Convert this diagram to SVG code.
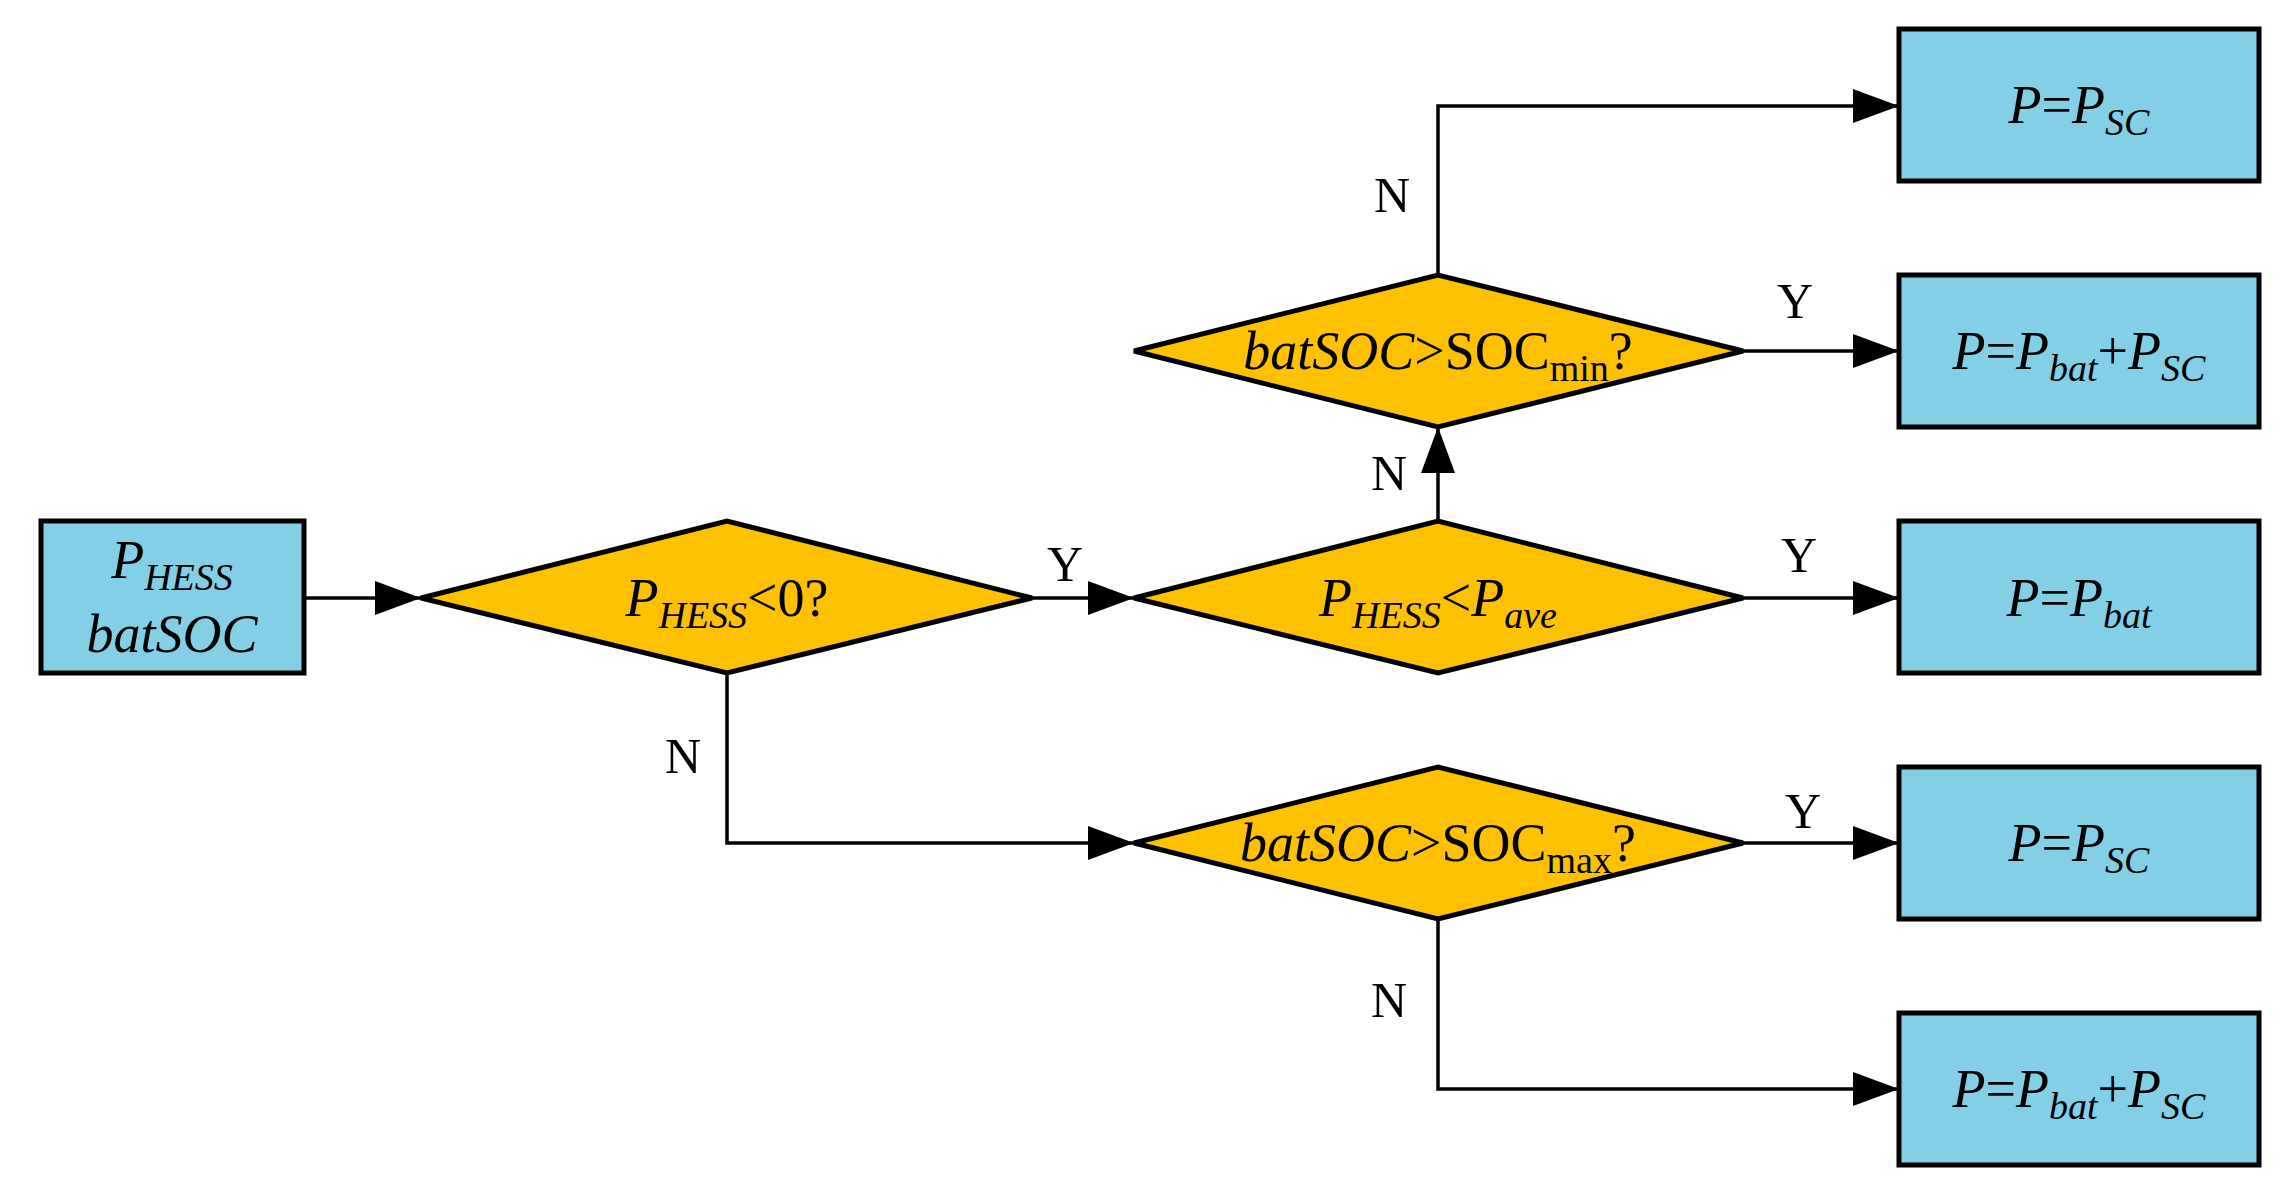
<svg xmlns="http://www.w3.org/2000/svg" width="2291" height="1196" viewBox="0 0 2291 1196">
<style>
.box{fill:#83CFE6;stroke:#000;stroke-width:5}
.dia{fill:#FDC100;stroke:#000;stroke-width:5}
.ln{fill:none;stroke:#000;stroke-width:3.5}
text{font-family:"Liberation Serif",serif;fill:#000}
.t{font-size:54px;font-style:italic;text-anchor:middle}
.lb{font-size:50px;text-anchor:middle}
.s{font-size:38px}
.n{font-style:normal}
</style>
<defs>
<marker id="ar" markerUnits="userSpaceOnUse" markerWidth="46" markerHeight="34" refX="46" refY="17" orient="auto">
<path d="M0,0 L46,17 L0,34 Z" fill="#000"/>
</marker>
</defs>
<g id="connectors">
<path class="ln" d="M304,598 H421" marker-end="url(#ar)"/>
<path class="ln" d="M1032,598 H1134" marker-end="url(#ar)"/>
<path class="ln" d="M727,673 V843 H1134" marker-end="url(#ar)"/>
<path class="ln" d="M1438,521 V427" marker-end="url(#ar)"/>
<path class="ln" d="M1743,598 H1899" marker-end="url(#ar)"/>
<path class="ln" d="M1743,351 H1899" marker-end="url(#ar)"/>
<path class="ln" d="M1438,275 V106 H1899" marker-end="url(#ar)"/>
<path class="ln" d="M1743,843 H1899" marker-end="url(#ar)"/>
<path class="ln" d="M1438,919 V1089 H1899" marker-end="url(#ar)"/>
<text class="lb" x="1392" y="212">N</text>
<text class="lb" x="1795" y="318">Y</text>
<text class="lb" x="1389" y="490">N</text>
<text class="lb" x="1065" y="581">Y</text>
<text class="lb" x="1799" y="572">Y</text>
<text class="lb" x="683" y="773">N</text>
<text class="lb" x="1803" y="828">Y</text>
<text class="lb" x="1389" y="1017">N</text>
</g>
<g id="input">
<rect class="box" x="41" y="521" width="263" height="152"/>
<text class="t" x="172" y="578">P<tspan class="s" dy="12">HESS</tspan></text>
<text class="t" x="172" y="652">batSOC</text>
</g>
<g id="d1">
<polygon class="dia" points="421,598 727,521 1032,598 727,673"/>
<text class="t" x="727" y="616">P<tspan class="s" dy="12">HESS</tspan><tspan class="n" dy="-12">&lt;0?</tspan></text>
</g>
<g id="d2">
<polygon class="dia" points="1134,598 1438,521 1743,598 1438,673"/>
<text class="t" x="1438" y="616">P<tspan class="s" dy="12">HESS</tspan><tspan class="n" dy="-12">&lt;</tspan>P<tspan class="s" dy="12">ave</tspan></text>
</g>
<g id="d3">
<polygon class="dia" points="1134,351 1438,275 1743,351 1438,427"/>
<text class="t" x="1438" y="369">batSOC<tspan class="n">&gt;SOC</tspan><tspan class="s n" dy="12">min</tspan><tspan class="n" dy="-12">?</tspan></text>
</g>
<g id="d4">
<polygon class="dia" points="1134,843 1438,767 1743,843 1438,919"/>
<text class="t" x="1438" y="861">batSOC<tspan class="n">&gt;SOC</tspan><tspan class="s n" dy="12">max</tspan><tspan class="n" dy="-12">?</tspan></text>
</g>
<g id="r1">
<rect class="box" x="1899" y="29" width="360" height="152"/>
<text class="t" x="2079" y="123">P<tspan class="n">=</tspan>P<tspan class="s" dy="12">SC</tspan></text>
</g>
<g id="r2">
<rect class="box" x="1899" y="275" width="360" height="152"/>
<text class="t" x="2079" y="369">P<tspan class="n">=</tspan>P<tspan class="s" dy="12">bat</tspan><tspan class="n" dy="-12">+</tspan>P<tspan class="s" dy="12">SC</tspan></text>
</g>
<g id="r3">
<rect class="box" x="1899" y="521" width="360" height="152"/>
<text class="t" x="2079" y="616">P<tspan class="n">=</tspan>P<tspan class="s" dy="12">bat</tspan></text>
</g>
<g id="r4">
<rect class="box" x="1899" y="767" width="360" height="152"/>
<text class="t" x="2079" y="861">P<tspan class="n">=</tspan>P<tspan class="s" dy="12">SC</tspan></text>
</g>
<g id="r5">
<rect class="box" x="1899" y="1013" width="360" height="152"/>
<text class="t" x="2079" y="1107">P<tspan class="n">=</tspan>P<tspan class="s" dy="12">bat</tspan><tspan class="n" dy="-12">+</tspan>P<tspan class="s" dy="12">SC</tspan></text>
</g>
</svg>
